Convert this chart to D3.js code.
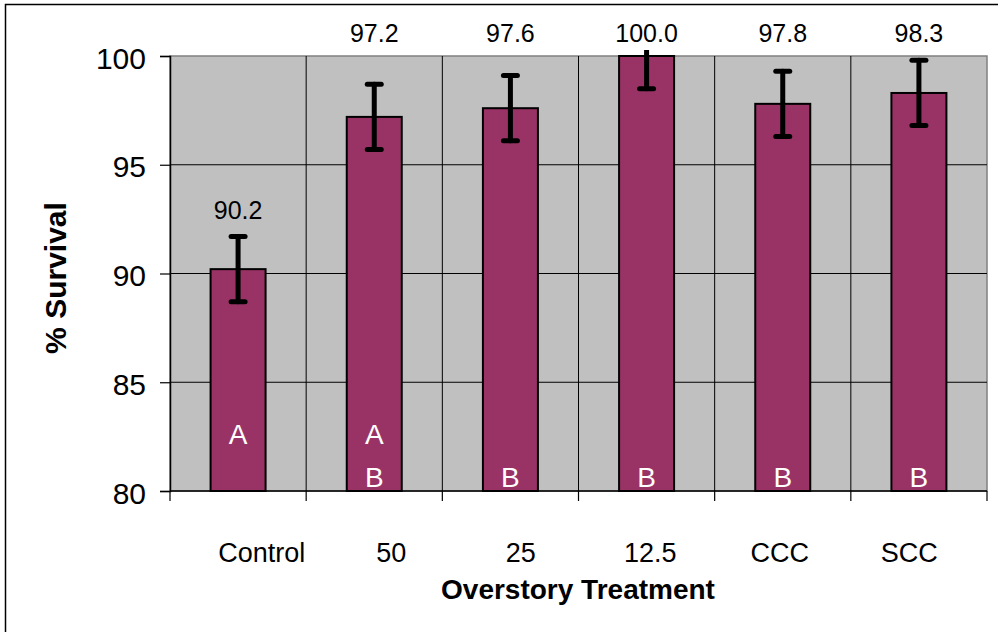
<!DOCTYPE html>
<html>
<head>
<meta charset="utf-8">
<script src="https://cdn.jsdelivr.net/npm/d3@7"></script>
<style>
  body { margin: 0; background: #fff; }
  text { font-family: "Liberation Sans", Arial, sans-serif; }
</style>
</head>
<body>
<div id="maincontainer"></div>
<script>
  // data
  let treatments = ["Control", "50", "25", "12.5", "CCC", "SCC"];
  let survival = [90.2, 97.2, 97.6, 100.0, 97.8, 98.3];
  let stdErr = [1.5, 1.5, 1.5, 1.5, 1.5, 1.5];
  let groups = ["A", "AB", "B", "B", "B", "B"];
  let yTicks = [80, 85, 90, 95, 100];

  let width = 998;
  let height = 632;
  let plot = { left: 170, right: 987, top: 56, bottom: 491 };

  let svg = d3.select("#maincontainer")
    .append("svg")
    .attr("width", width)
    .attr("height", height);

  // outer frame (right / bottom edges fall outside the picture)
  svg.append("rect")
    .attr("x", 5.5).attr("y", 4.5)
    .attr("width", 1000).attr("height", 700)
    .attr("fill", "#fff").attr("stroke", "#000").attr("stroke-width", 1.5);

  let x = d3.scaleBand()
    .domain(treatments)
    .range([plot.left, plot.right])
    .paddingInner(0)
    .paddingOuter(0);

  // category labels sit on a slightly narrower spacing than the bars
  let xLabel = d3.scaleBand()
    .domain(treatments)
    .range([197, 974]);

  let y = d3.scaleLinear()
    .domain([80, 100])
    .range([plot.bottom, plot.top]);

  let barW = 55;

  // plot background
  svg.append("rect")
    .attr("x", plot.left).attr("y", plot.top)
    .attr("width", plot.right - plot.left)
    .attr("height", plot.bottom - plot.top)
    .attr("fill", "#c0c0c0")
    .attr("stroke", "#808080")
    .attr("stroke-width", 1.5);

  // horizontal grid
  svg.append("g")
    .selectAll("line")
    .data(yTicks.filter(d => d > 80 && d < 100))
    .enter()
    .append("line")
    .attr("x1", plot.left).attr("x2", plot.right)
    .attr("y1", d => y(d)).attr("y2", d => y(d))
    .attr("stroke", "#000").attr("stroke-width", 1);

  // vertical grid at category boundaries
  let bounds = treatments.slice(1).map(d => x(d));
  svg.append("g")
    .selectAll("line")
    .data(bounds)
    .enter()
    .append("line")
    .attr("x1", d => d).attr("x2", d => d)
    .attr("y1", plot.top).attr("y2", plot.bottom)
    .attr("stroke", "#000").attr("stroke-width", 1);

  // y axis
  let yAxis = svg.append("g")
    .attr("transform", `translate(${plot.left},0)`)
    .call(d3.axisLeft(y).tickValues(yTicks).tickSize(10).tickPadding(14));
  yAxis.select(".domain").attr("stroke", "#000").attr("stroke-width", 1.5);
  yAxis.selectAll(".tick line").attr("stroke", "#000").attr("stroke-width", 1.2);
  yAxis.selectAll(".tick text")
    .attr("font-size", 30)
    .attr("fill", "#000")
    .attr("font-family", "Liberation Sans, Arial, sans-serif")
    .attr("dy", "0.4em");

  // x axis line + boundary ticks
  svg.append("line")
    .attr("x1", plot.left).attr("x2", plot.right)
    .attr("y1", plot.bottom).attr("y2", plot.bottom)
    .attr("stroke", "#000").attr("stroke-width", 1.5);
  svg.append("g")
    .selectAll("line")
    .data([plot.left].concat(bounds, [plot.right]))
    .enter()
    .append("line")
    .attr("x1", d => d).attr("x2", d => d)
    .attr("y1", plot.bottom).attr("y2", plot.bottom + 10)
    .attr("stroke", "#000").attr("stroke-width", 1.2);

  let rows = treatments.map((t, i) => ({
    name: t, value: survival[i], err: stdErr[i], group: groups[i]
  }));

  // bars
  svg.append("g")
    .selectAll("rect")
    .data(rows)
    .enter()
    .append("rect")
    .attr("x", d => x(d.name) + x.bandwidth() / 2 - barW / 2)
    .attr("y", d => y(d.value))
    .attr("width", barW)
    .attr("height", d => y(80) - y(d.value))
    .attr("fill", "#993366")
    .attr("stroke", "#000")
    .attr("stroke-width", 2);

  // error bars (clipped just above the plot)
  svg.append("clipPath").attr("id", "errclip")
    .append("rect")
    .attr("x", 0).attr("y", plot.top - 6)
    .attr("width", width).attr("height", height);

  let err = svg.append("g").attr("clip-path", "url(#errclip)")
    .selectAll("g")
    .data(rows)
    .enter()
    .append("g")
    .attr("stroke", "#000")
    .attr("stroke-width", 5)
    .attr("stroke-linecap", "round");
  err.append("line")
    .attr("x1", d => x(d.name) + x.bandwidth() / 2)
    .attr("x2", d => x(d.name) + x.bandwidth() / 2)
    .attr("y1", d => y(d.value - d.err))
    .attr("y2", d => y(d.value + d.err));
  err.append("line")
    .attr("x1", d => x(d.name) + x.bandwidth() / 2 - 7)
    .attr("x2", d => x(d.name) + x.bandwidth() / 2 + 7)
    .attr("y1", d => y(d.value - d.err))
    .attr("y2", d => y(d.value - d.err));
  err.filter(d => d.value + d.err <= 100)
    .append("line")
    .attr("x1", d => x(d.name) + x.bandwidth() / 2 - 7)
    .attr("x2", d => x(d.name) + x.bandwidth() / 2 + 7)
    .attr("y1", d => y(d.value + d.err))
    .attr("y2", d => y(d.value + d.err));

  // value labels: above the error bar, or in a row above the plot
  svg.append("g")
    .selectAll("text")
    .data(rows)
    .enter()
    .append("text")
    .attr("x", d => x(d.name) + x.bandwidth() / 2)
    .attr("y", d => d.value < 95 ? y(d.value + d.err) - 18 : plot.top - 14)
    .attr("text-anchor", "middle")
    .attr("font-size", 25)
    .attr("fill", "#000")
    .text(d => d3.format(".1f")(d.value));

  // significance letters inside the bars
  let letters = [];
  rows.forEach(d => {
    d.group.split("").forEach(c => letters.push({ name: d.name, letter: c }));
  });
  svg.append("g")
    .selectAll("text")
    .data(letters)
    .enter()
    .append("text")
    .attr("x", d => x(d.name) + x.bandwidth() / 2)
    .attr("y", d => d.letter === "A" ? plot.bottom - 47 : plot.bottom - 4)
    .attr("text-anchor", "middle")
    .attr("font-size", 28)
    .attr("fill", "#fff")
    .text(d => d.letter);

  // category labels
  svg.append("g")
    .selectAll("text")
    .data(treatments)
    .enter()
    .append("text")
    .attr("x", d => xLabel(d) + xLabel.bandwidth() / 2)
    .attr("y", 562)
    .attr("text-anchor", "middle")
    .attr("font-size", 27)
    .attr("fill", "#000")
    .text(d => d);

  // axis titles
  svg.append("text")
    .attr("x", 578).attr("y", 599)
    .attr("text-anchor", "middle")
    .attr("font-size", 28)
    .attr("font-weight", "bold")
    .text("Overstory Treatment");

  svg.append("text")
    .attr("transform", "translate(66,278) rotate(-90)")
    .attr("text-anchor", "middle")
    .attr("font-size", 30)
    .attr("font-weight", "bold")
    .text("% Survival");
</script>
</body>
</html>
